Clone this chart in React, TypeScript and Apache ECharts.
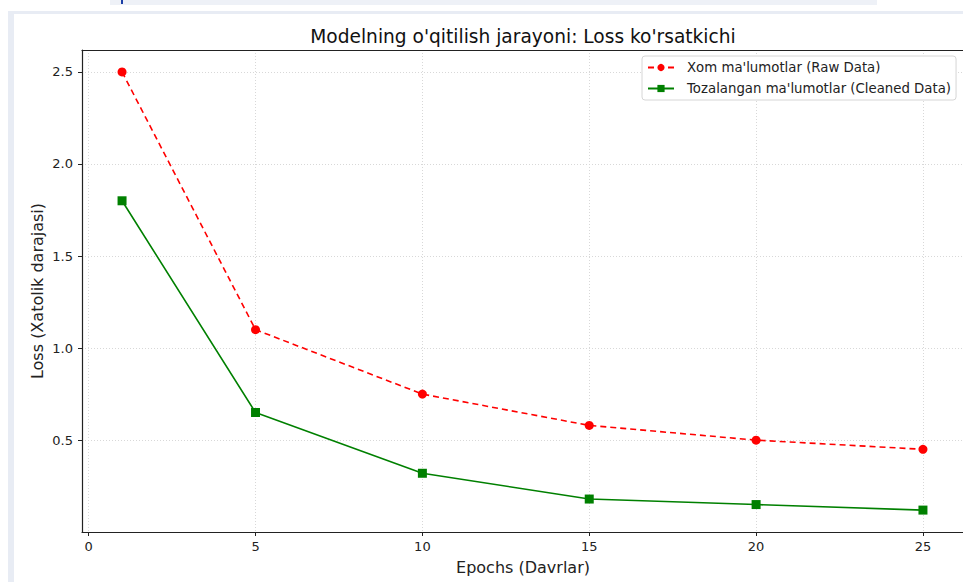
import React, { useEffect, useRef } from "react";
import * as echarts from "echarts";

const epochs = [1, 5, 10, 15, 20, 25];
const rawLoss = [2.5, 1.1, 0.75, 0.58, 0.5, 0.45];
const cleanLoss = [1.8, 0.65, 0.32, 0.18, 0.15, 0.12];
const xTicks = [0, 5, 10, 15, 20, 25];
const yTicks = [0.5, 1.0, 1.5, 2.0, 2.5];
const titleText = "Modelning o'qitilish jarayoni: Loss ko'rsatkichi";
const xName = "Epochs (Davrlar)";
const yName = "Loss (Xatolik darajasi)";
const rawName = "Xom ma'lumotlar (Raw Data)";
const cleanName = "Tozalangan ma'lumotlar (Cleaned Data)";

const FONT = "DejaVu Sans";

export default function App() {
  const ref = useRef<HTMLDivElement>(null);
  useEffect(() => {
    if (!ref.current) return;
    const chart = echarts.init(ref.current, null, { renderer: "svg" });
    const band = "#e8ecf4";
    chart.setOption({
      animation: false,
      backgroundColor: "#ffffff",
      graphic: [
        { type: "rect", shape: { x: 110, y: 0, width: 767, height: 5 }, style: { fill: "#eef1f7" }, z: -1 },
        { type: "rect", shape: { x: 121, y: 0, width: 2, height: 4 }, style: { fill: "#1b3fa6" }, z: 0 },
        { type: "rect", shape: { x: 8, y: 11, width: 955, height: 3 }, style: { fill: band }, z: -1 },
        { type: "rect", shape: { x: 8, y: 11, width: 6, height: 571 }, style: { fill: band }, z: -1 },
        {
          type: "text",
          x: 523,
          y: 36,
          style: {
            text: titleText,
            fill: "#111",
            font: `18.6px "${FONT}"`,
            textAlign: "center",
            textVerticalAlign: "middle",
          },
        },
        {
          type: "text",
          x: 37,
          y: 291,
          rotation: Math.PI / 2,
          style: {
            text: yName,
            fill: "#222",
            font: `16px "${FONT}"`,
            textAlign: "center",
            textVerticalAlign: "middle",
          },
        },
        {
          type: "text",
          x: 523,
          y: 567,
          style: {
            text: xName,
            fill: "#222",
            font: `16px "${FONT}"`,
            textAlign: "center",
            textVerticalAlign: "middle",
          },
        },
      ],
      grid: { left: 82, top: 50, right: -1, bottom: 50, containLabel: false },
      legend: {
        orient: "vertical",
        left: 642,
        top: 56,
        padding: [4, 5, 4, 5],
        itemGap: 6,
        itemWidth: 26,
        itemHeight: 9,
        backgroundColor: "#fff",
        borderColor: "#d6d6d6",
        borderWidth: 1,
        borderRadius: 3,
        textStyle: { fontFamily: FONT, fontSize: 13.3, color: "#222", padding: [0, 0, 0, 8], lineHeight: 15 },
        data: [rawName, cleanName],
      },
      xAxis: [
        {
          type: "value",
          min: -0.2,
          max: 26.2,
          axisLine: { show: true, onZero: false, lineStyle: { color: "#222", width: 1.2 } },
          axisTick: { show: true, length: 4, customValues: xTicks, lineStyle: { color: "#222" } },
          axisLabel: {
            customValues: xTicks,
            margin: 8,
            color: "#222",
            fontFamily: FONT,
            fontSize: 13,
          },
          splitLine: { show: true, lineStyle: { color: "#d8d8d8", type: [1, 2], width: 1 } },
        },
        {
          type: "value",
          position: "top",
          min: -0.2,
          max: 26.2,
          axisLine: { show: true, onZero: false, lineStyle: { color: "#222", width: 1.2 } },
          axisTick: { show: false },
          axisLabel: { show: false },
          splitLine: { show: false },
        },
      ],
      yAxis: {
        type: "value",
        min: 0.001,
        max: 2.619,
        axisLine: { show: true, onZero: false, lineStyle: { color: "#222", width: 1.2 } },
        axisTick: { show: true, length: 4, customValues: yTicks, lineStyle: { color: "#222" } },
        axisLabel: {
          customValues: yTicks,
          margin: 9,
          color: "#222",
          fontFamily: FONT,
          fontSize: 13,
          formatter: (v: number) => v.toFixed(1),
        },
        splitLine: { show: true, lineStyle: { color: "#d8d8d8", type: [1, 2], width: 1 } },
      },
      series: [
        {
          name: rawName,
          type: "line",
          data: epochs.map((e, i) => [e, rawLoss[i]]),
          symbol: "circle",
          symbolSize: 9,
          itemStyle: { color: "#ff0000" },
          lineStyle: { color: "#ff0000", width: 1.6, type: [6, 4] },
        },
        {
          name: cleanName,
          type: "line",
          data: epochs.map((e, i) => [e, cleanLoss[i]]),
          symbol: "rect",
          symbolSize: 9,
          itemStyle: { color: "#008000" },
          lineStyle: { color: "#008000", width: 1.6 },
        },
      ],
    });
    return () => chart.dispose();
  }, []);
  return (
    <div
      ref={ref}
      style={{ position: "fixed", left: 0, top: 0, width: 963, height: 582 }}
    />
  );
}
